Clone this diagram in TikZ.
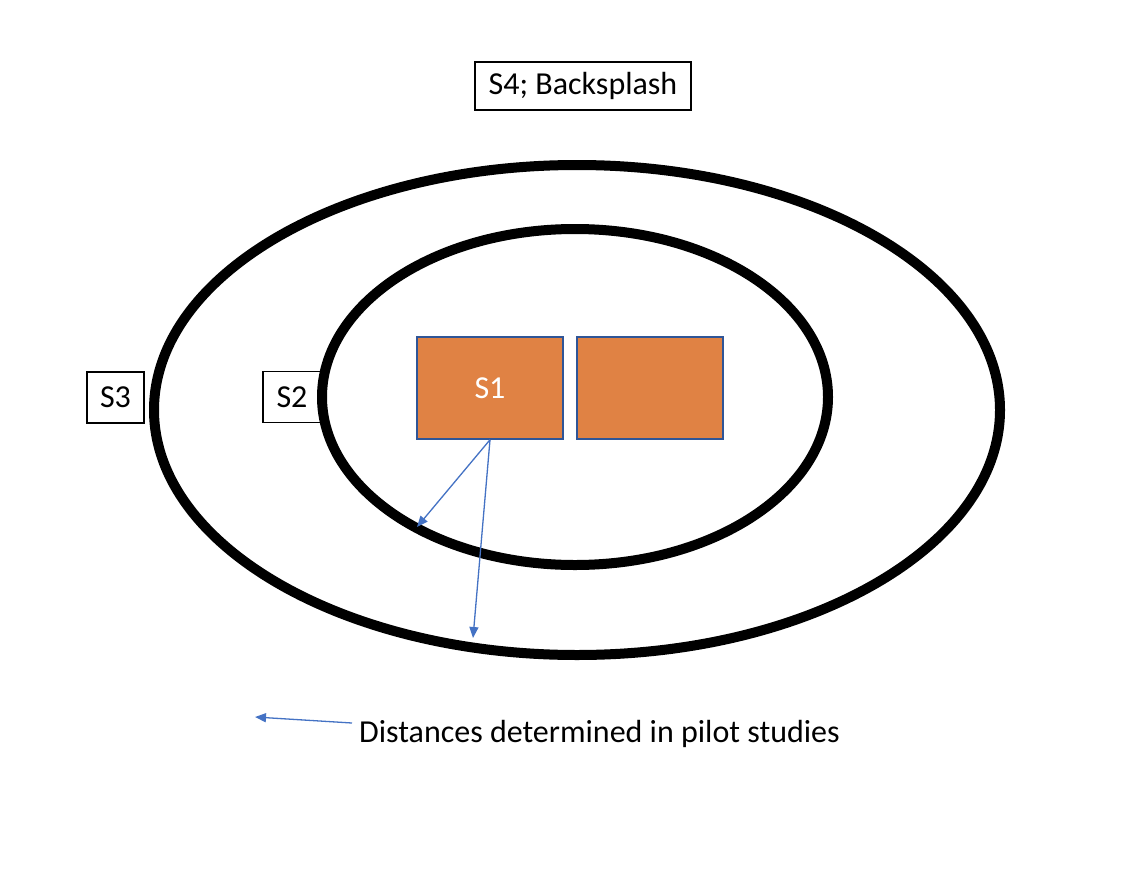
\documentclass[tikz,border=0pt]{standalone}
\usepackage{fontspec}
\setmainfont{Carlito}
\definecolor{orng}{RGB}{224,130,68}
\definecolor{bordblue}{RGB}{47,85,151}
\definecolor{arrblue}{RGB}{68,114,196}
\usetikzlibrary{arrows.meta}
\begin{document}
\begin{tikzpicture}[x=1pt,y=-1pt,
  lbl/.style={draw=black,line width=1.5pt,fill=white,inner sep=0pt,font=\fontsize{32}{36}\selectfont},
  sbox/.style={draw=bordblue,line width=1.5pt,fill=orng,inner sep=0pt,minimum width=146pt,minimum height=102pt},
  ring/.style={draw=black,line width=10pt},
  arr/.style={draw=arrblue,line width=1.3pt,-{Triangle[length=11pt,width=9pt]}}]
\useasboundingbox[fill=white] (0,0) rectangle (1140,870);
\node[lbl,minimum width=216pt,minimum height=48pt] (s4) at (583,86) {S4; Backsplash};
\node[lbl,minimum width=57pt,minimum height=51pt] (s3) at (115.5,397.5) {S3};
\node[lbl,minimum width=58pt,minimum height=51pt] (s2) at (292,397) {S2};
\draw[ring] (577,410) ellipse [x radius=423, y radius=245];
\draw[ring] (575,397) ellipse [x radius=253, y radius=168];
\node[sbox,font=\fontsize{32}{36}\selectfont\color{white}] (s1) at (490,388) {S1};
\node[sbox] (s1b) at (650,388) {};
\coordinate (e1) at (417,527);
\coordinate (e2) at (473,638);
\draw[arr] (s1.south) -- (e1);
\draw[arr] (s1.south) -- (e2);
\node[anchor=west,inner sep=0pt,font=\fontsize{32}{36}\selectfont] (leg) at (359,734) {Distances determined in pilot studies};
\coordinate (lt) at (255,717);
\draw[arr] (352,723) -- (lt);
\end{tikzpicture}
\end{document}
